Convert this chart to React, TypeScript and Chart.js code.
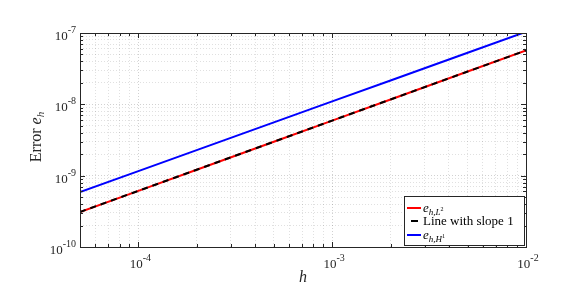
import React, { useEffect, useRef } from "react";
import { Chart, registerables } from "chart.js";

Chart.register(...registerables);

// ---- data ----
const hValues = [5e-5, 1e-4, 2e-4, 5e-4, 1e-3, 2e-3, 5e-3, 1e-2];
const errL2 = [3.1e-10, 6.13e-10, 1.21e-9, 2.99e-9, 5.91e-9, 1.17e-8, 2.88e-8, 5.7e-8];
const slopeOne = [3.1e-10, 6.13e-10, 1.21e-9, 2.99e-9, 5.91e-9, 1.17e-8, 2.88e-8, 5.7e-8];
const errH1 = [5.9e-10, 1.16e-9, 2.28e-9, 5.58e-9, 1.1e-8, 2.16e-8, 5.28e-8, 1.04e-7];
const xTickExponents = [-4, -3, -2];
const yTickExponents = [-10, -9, -8, -7];
const X_MIN = 5e-5;
const X_MAX = 1e-2;
const Y_MIN = 1e-10;
const Y_MAX = 1e-7;

const SERIF = "'Liberation Serif', 'Times New Roman', serif";

function logTicks(min: number, max: number) {
  const out: { value: number; major: boolean }[] = [];
  const d0 = Math.floor(Math.log10(min));
  const d1 = Math.ceil(Math.log10(max));
  for (let d = d0; d <= d1; d++) {
    for (let k = 1; k <= 9; k++) {
      const v = k * Math.pow(10, d);
      if (v >= min * 0.9999 && v <= max * 1.0001) out.push({ value: v, major: k === 1 });
    }
  }
  return out;
}

type Part = { text: string; font: string; dy: number };

function richWidth(ctx: CanvasRenderingContext2D, parts: Part[]) {
  let w = 0;
  for (const p of parts) {
    ctx.font = p.font;
    w += ctx.measureText(p.text).width;
  }
  return w;
}

function drawRich(ctx: CanvasRenderingContext2D, parts: Part[], x: number, y: number) {
  let cx = x;
  ctx.textBaseline = "alphabetic";
  ctx.textAlign = "left";
  for (const p of parts) {
    ctx.font = p.font;
    ctx.fillText(p.text, cx, y + p.dy);
    cx += ctx.measureText(p.text).width;
  }
  return cx - x;
}

function powParts(exp: number): Part[] {
  return [
    { text: "10", font: `13px ${SERIF}`, dy: 0 },
    { text: String(exp), font: `10px ${SERIF}`, dy: -7 },
  ];
}

const decorPlugin = {
  id: "decor",
  afterDatasetsDraw(chart: any) {
    const ctx: CanvasRenderingContext2D = chart.ctx;
    const { left, right, top, bottom } = chart.chartArea;
    const xs = chart.scales.x;
    const ys = chart.scales.y;
    ctx.save();
    ctx.strokeStyle = "#262626";
    ctx.lineWidth = 1;
    // box
    ctx.strokeRect(Math.round(left) + 0.5, Math.round(top) + 0.5, Math.round(right - left), Math.round(bottom - top));
    // inward ticks
    ctx.beginPath();
    for (const t of logTicks(X_MIN, X_MAX)) {
      const px = Math.round(xs.getPixelForValue(t.value)) + 0.5;
      const len = t.major ? 5 : 3;
      ctx.moveTo(px, bottom);
      ctx.lineTo(px, bottom - len);
      ctx.moveTo(px, top);
      ctx.lineTo(px, top + len);
    }
    for (const t of logTicks(Y_MIN, Y_MAX)) {
      const py = Math.round(ys.getPixelForValue(t.value)) + 0.5;
      const len = t.major ? 5 : 3;
      ctx.moveTo(left, py);
      ctx.lineTo(left + len, py);
      ctx.moveTo(right, py);
      ctx.lineTo(right - len, py);
    }
    ctx.stroke();

    // tick labels
    ctx.fillStyle = "#262626";
    for (const e of xTickExponents) {
      const px = xs.getPixelForValue(Math.pow(10, e));
      const parts = powParts(e);
      const w = richWidth(ctx, parts);
      drawRich(ctx, parts, px - w / 2 + 2, bottom + 21);
    }
    for (const e of yTickExponents) {
      const py = ys.getPixelForValue(Math.pow(10, e));
      const parts = powParts(e);
      const w = richWidth(ctx, parts);
      drawRich(ctx, parts, left - 4 - w, py + 7);
    }

    // x title
    ctx.fillStyle = "#262626";
    {
      const parts: Part[] = [{ text: "h", font: `italic 16px ${SERIF}`, dy: 0 }];
      const w = richWidth(ctx, parts);
      drawRich(ctx, parts, (left + right) / 2 - w / 2, bottom + 35);
    }
    // y title
    {
      const parts: Part[] = [
        { text: "Error ", font: `16px ${SERIF}`, dy: 0 },
        { text: "e", font: `italic 16px ${SERIF}`, dy: 0 },
        { text: "h", font: `italic 11px ${SERIF}`, dy: 3 },
      ];
      const w = richWidth(ctx, parts);
      ctx.save();
      ctx.translate(41, (top + bottom) / 2 - 3);
      ctx.rotate(-Math.PI / 2);
      drawRich(ctx, parts, -w / 2, 0);
      ctx.restore();
    }

    // legend
    const lx = 404, ly = 196, lw = 120, lh = 49;
    ctx.fillStyle = "#ffffff";
    ctx.fillRect(lx, ly, lw, lh);
    ctx.strokeStyle = "#262626";
    ctx.lineWidth = 1;
    ctx.strokeRect(lx + 0.5, ly + 0.5, lw, lh);
    const rows = [
      { y: 208, color: "#ff0000", x0: 407, x1: 421, parts: [
        { text: "e", font: `italic 13px ${SERIF}`, dy: 0 },
        { text: "h,L", font: `italic 9px ${SERIF}`, dy: 3 },
        { text: "2", font: `6px ${SERIF}`, dy: -1 },
      ] as Part[] },
      { y: 221, color: "#000000", x0: 411, x1: 418, parts: [
        { text: "Line with slope 1", font: `13px ${SERIF}`, dy: 0 },
      ] as Part[] },
      { y: 235, color: "#0000ff", x0: 407, x1: 421, parts: [
        { text: "e", font: `italic 13px ${SERIF}`, dy: 0 },
        { text: "h,H", font: `italic 9px ${SERIF}`, dy: 3 },
        { text: "1", font: `6px ${SERIF}`, dy: -1 },
      ] as Part[] },
    ];
    for (const r of rows) {
      ctx.strokeStyle = r.color;
      ctx.lineWidth = 2;
      ctx.beginPath();
      ctx.moveTo(r.x0, r.y);
      ctx.lineTo(r.x1, r.y);
      ctx.stroke();
      ctx.fillStyle = "#000000";
      drawRich(ctx, r.parts, 423, r.y + 4);
    }
    ctx.restore();
  },
};

export default function App() {
  const ref = useRef<HTMLCanvasElement | null>(null);
  useEffect(() => {
    document.body.style.margin = "0";
    const canvas = ref.current!;
    const gridColor = (c: any) =>
      c.tick && c.tick.major ? "rgba(0,0,0,0.18)" : "rgba(0,0,0,0.12)";
    const chart = new Chart(canvas, {
      type: "line",
      data: {
        datasets: [
          {
            label: "e_h,L2",
            data: hValues.map((h, i) => ({ x: h, y: errL2[i] })),
            borderColor: "#ff0000",
            borderWidth: 2,
            pointRadius: 0,
            fill: false,
            order: 2,
          },
          {
            label: "Line with slope 1",
            data: hValues.map((h, i) => ({ x: h, y: slopeOne[i] })),
            borderColor: "#000000",
            borderWidth: 2,
            borderDash: [6, 5],
            pointRadius: 0,
            fill: false,
            order: 1,
          },
          {
            label: "e_h,H1",
            data: hValues.map((h, i) => ({ x: h, y: errH1[i] })),
            borderColor: "#0000ff",
            borderWidth: 2,
            pointRadius: 0,
            fill: false,
            order: 3,
          },
        ],
      },
      options: {
        responsive: false,
        animation: false,
        devicePixelRatio: 1,
        layout: { padding: { left: 80, right: 59, top: 33, bottom: 49 } },
        plugins: { legend: { display: false }, tooltip: { enabled: false } },
        scales: {
          x: {
            type: "logarithmic",
            min: X_MIN,
            max: X_MAX,
            afterBuildTicks: (s: any) => {
              s.ticks = logTicks(X_MIN, X_MAX);
            },
            ticks: { display: false },
            grid: { color: gridColor, drawTicks: false, lineWidth: 1 },
            border: { display: false, dash: [1, 2] },
          },
          y: {
            type: "logarithmic",
            min: Y_MIN,
            max: Y_MAX,
            afterBuildTicks: (s: any) => {
              s.ticks = logTicks(Y_MIN, Y_MAX);
            },
            ticks: { display: false },
            grid: { color: gridColor, drawTicks: false, lineWidth: 1 },
            border: { display: false, dash: [1, 2] },
          },
        },
      },
      plugins: [decorPlugin],
    } as any);
    return () => chart.destroy();
  }, []);
  return (
    <div style={{ width: 585, height: 296, background: "#fff" }}>
      <canvas ref={ref} width={585} height={296} style={{ display: "block" }} />
    </div>
  );
}
